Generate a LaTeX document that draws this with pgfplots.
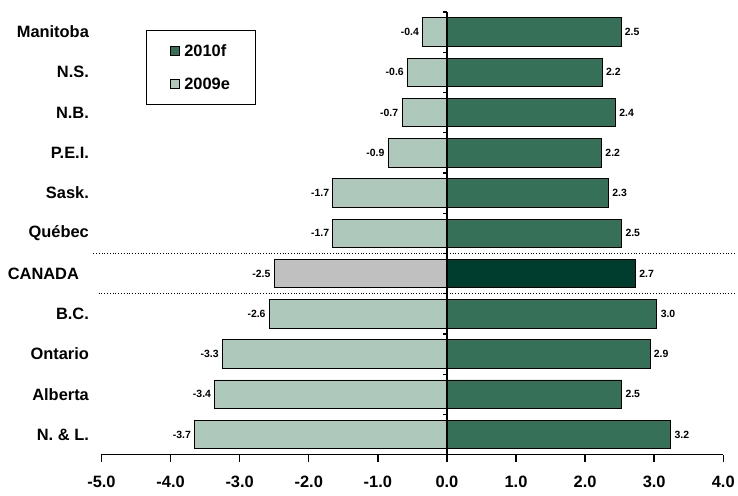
\documentclass[border=0pt]{standalone}
\usepackage{pgfplots}
\pgfplotsset{compat=1.18}
\usepackage{pgfplotstable}
\usepackage{fontspec}
\setmainfont{Liberation Sans}
\definecolor{newc}{HTML}{367059}
\definecolor{oldc}{HTML}{AEC8BC}
\definecolor{cannew}{HTML}{003D2E}
\definecolor{canold}{HTML}{C0C0C0}
\pgfplotstableread{
y x lab
10 2.52 2.5
9 2.25 2.2
8 2.44 2.4
7 2.24 2.2
6 2.34 2.3
5 2.53 2.5
3 3.04 3.0
2 2.94 2.9
1 2.53 2.5
0 3.24 3.2
}\tabnew
\pgfplotstableread{
y x lab
10 -0.35 -0.4
9 -0.57 -0.6
8 -0.65 -0.7
7 -0.85 -0.9
6 -1.65 -1.7
5 -1.65 -1.7
3 -2.57 -2.6
2 -3.25 -3.3
1 -3.36 -3.4
0 -3.65 -3.7
}\tabold
\begin{document}
\begin{tikzpicture}
\begin{axis}[
  scale only axis, width=625pt, height=445pt,
  xmin=-5, xmax=4, ymin=-0.5, ymax=10.5,
  axis x line=bottom, axis y line=left,
  x axis line style={-, line width=1.5pt, black},
  y axis line style={draw=none},
  xtick={-5,...,4},
  major x tick style={draw=none},
  ytick={0,...,10},
  yticklabels={N. \& L.,Alberta,Ontario,B.C.,CANADA\kern10pt,Québec,Sask.,P.E.I.,N.B.,N.S.,Manitoba},
  major y tick style={draw=none},
  ticklabel style={font=\bfseries\fontsize{16.5}{16.5}\selectfont},
  yticklabel style={xshift=-7pt},
  xticklabel style={yshift=-16pt},
  /pgf/number format/assume math mode=true,
  xticklabel style={/pgf/number format/.cd,fixed,fixed zerofill,precision=1},
  clip=false,
  point meta=explicit symbolic,
  nodes near coords,
  nodes near coords style={font=\bfseries\fontsize{10.5}{10.5}\selectfont, black},
  legend style={at={(axis cs:-4.356,10.056)}, anchor=north west, draw=black, line width=1.2pt,
    font=\bfseries\fontsize{16.5}{16.5}\selectfont, inner xsep=24pt, inner ysep=12pt, row sep=16pt},
  legend cell align=left,
  legend image code/.code={\draw[#1, line width=0.8pt] (17pt,-4.5pt) rectangle (26pt,4.5pt); \path (28pt,0pt);},
]
\addplot[xbar, bar shift=0pt, bar width=0.71, fill=newc, draw=black, line width=1pt,
  nodes near coords style={anchor=west}] table[x=x,y=y,meta=lab]{\tabnew};
\addlegendentry{2010f}
\addplot[xbar, bar shift=0pt, bar width=0.71, fill=oldc, draw=black, line width=1pt,
  nodes near coords style={anchor=east}] table[x=x,y=y,meta=lab]{\tabold};
\addlegendentry{2009e}
\addplot[xbar, bar shift=0pt, bar width=0.71, fill=cannew, draw=black, line width=1pt, forget plot,
  nodes near coords style={anchor=west}] coordinates {(2.73,4) [2.7]};
\addplot[xbar, bar shift=0pt, bar width=0.71, fill=canold, draw=black, line width=1pt, forget plot,
  nodes near coords style={anchor=east}] coordinates {(-2.5,4) [-2.5]};
\draw[line width=1.2pt] (axis cs:0,-0.5) -- (axis cs:0,10.5);
\pgfplotsinvokeforeach{-0.5,0.5,1.5,2.5,3.5,4.5,5.5,6.5,7.5,8.5,9.5,10.5}{
  \draw[line width=1.2pt] (axis cs:0,#1) -- ([xshift=-4pt]axis cs:0,#1);
}
\draw[line width=1.5pt, black] (axis cs:-5,-0.5) -- (axis cs:4,-0.5);
\pgfplotsinvokeforeach{-5,-4,-3,-2,-1,0,1,2,3,4}{
  \draw[line width=1.5pt, black] (axis cs:#1,-0.5) -- ([yshift=-7pt]axis cs:#1,-0.5);
}
\draw[dotted, line width=0.8pt] (axis cs:-5.12,4.5) -- (axis cs:4.16,4.5);
\draw[dotted, line width=0.8pt] (axis cs:-5.04,3.5) -- (axis cs:4.16,3.5);
\path ([xshift=-102pt,yshift=-41pt]axis cs:-5,-0.5) coordinate (bbA);
\path ([xshift=11pt,yshift=12pt]axis cs:4,10.5) coordinate (bbB);
\path (bbA) rectangle (bbB);
\end{axis}
\end{tikzpicture}
\end{document}
